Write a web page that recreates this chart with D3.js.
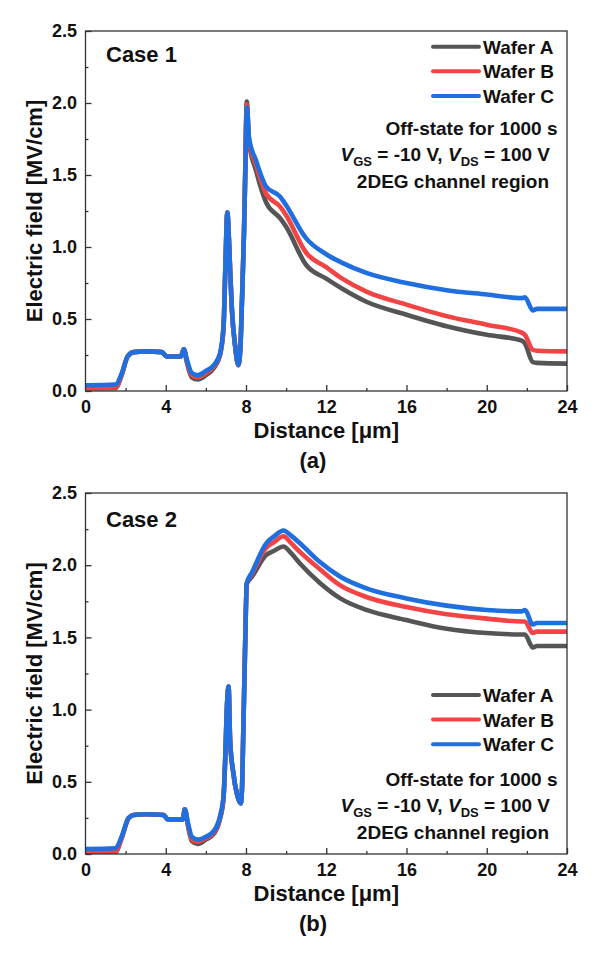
<!DOCTYPE html>
<html>
<head>
<meta charset="utf-8">
<script src="https://cdn.jsdelivr.net/npm/d3@7"></script>
<style>
  body { margin: 0; background: #fff; }
  text { font-family: "Liberation Sans", Arial, sans-serif; font-weight: bold; fill: #111; }
</style>
</head>
<body>
<svg id="chart" width="598" height="959"></svg>
<script>
// ---- data ----
var wafers = ["Wafer A", "Wafer B", "Wafer C"];
var colors = ["#555555", "#f24444", "#1f6fdf"];

var xTicks = [0, 4, 8, 12, 16, 20, 24];
var xMinor = [2, 6, 10, 14, 18, 22];
var yTicks = [0, 0.5, 1.0, 1.5, 2.0, 2.5];
var yMinor = [0.25, 0.75, 1.25, 1.75, 2.25];

// Case 1
var x1 = [0, 1.5, 1.8, 2.1, 2.4, 3.0, 3.8, 4.05, 4.75, 4.9, 5.05, 5.3, 5.6, 6.0, 6.4, 6.7, 6.88, 6.97, 7.07, 7.15, 7.22, 7.3, 7.46, 7.62, 7.72, 7.8, 7.9, 7.96, 8.04, 8.15, 8.5, 9.0, 9.7, 10, 11, 12, 12.8, 14, 16, 18, 20, 21.75, 21.9, 22.3, 22.5, 24];
var c1A = [0.02, 0.02, 0.11, 0.24, 0.27, 0.275, 0.27, 0.24, 0.24, 0.29, 0.2, 0.095, 0.08, 0.11, 0.16, 0.245, 0.44, 0.85, 1.24, 1.05, 0.8, 0.56, 0.31, 0.18, 0.3, 0.63, 1.1, 1.5, 2.01, 1.73, 1.53, 1.31, 1.2, 1.14, 0.875, 0.78, 0.71, 0.62, 0.53, 0.45, 0.39, 0.35, 0.33, 0.2, 0.195, 0.19];
var c1B = [0.02, 0.025, 0.11, 0.24, 0.27, 0.275, 0.27, 0.24, 0.24, 0.29, 0.21, 0.11, 0.095, 0.125, 0.17, 0.25, 0.44, 0.85, 1.24, 1.05, 0.8, 0.56, 0.31, 0.18, 0.3, 0.63, 1.1, 1.5, 1.99, 1.74, 1.57, 1.37, 1.28, 1.22, 0.96, 0.86, 0.78, 0.69, 0.6, 0.52, 0.46, 0.405, 0.39, 0.285, 0.28, 0.275];
var c1C = [0.04, 0.045, 0.12, 0.24, 0.27, 0.275, 0.27, 0.24, 0.24, 0.29, 0.22, 0.125, 0.11, 0.14, 0.18, 0.26, 0.45, 0.85, 1.24, 1.05, 0.8, 0.56, 0.31, 0.18, 0.3, 0.63, 1.1, 1.5, 1.97, 1.76, 1.6, 1.42, 1.35, 1.29, 1.06, 0.95, 0.89, 0.82, 0.75, 0.7, 0.67, 0.645, 0.65, 0.56, 0.57, 0.57];

// Case 2
var x2 = [0, 1.5, 1.8, 2.15, 2.4, 3.0, 3.9, 4.1, 4.85, 4.95, 5.1, 5.3, 5.6, 6.0, 6.4, 6.7, 6.88, 6.96, 7.06, 7.13, 7.21, 7.37, 7.54, 7.74, 7.8, 7.87, 7.95, 8.04, 8.3, 9.0, 9.4, 9.87, 10.2, 10.7, 11.7, 12.7, 14, 16, 18, 20, 21.75, 21.9, 22.3, 22.5, 24];
var c2A = [0.015, 0.015, 0.11, 0.25, 0.27, 0.275, 0.27, 0.24, 0.24, 0.31, 0.2, 0.09, 0.07, 0.1, 0.14, 0.24, 0.39, 0.64, 1.05, 1.16, 0.78, 0.56, 0.42, 0.35, 0.45, 0.88, 1.4, 1.87, 1.92, 2.07, 2.1, 2.13, 2.09, 2.01, 1.875, 1.77, 1.69, 1.62, 1.56, 1.53, 1.52, 1.52, 1.43, 1.44, 1.44];
var c2B = [0.015, 0.015, 0.11, 0.25, 0.27, 0.275, 0.27, 0.24, 0.24, 0.31, 0.21, 0.1, 0.085, 0.11, 0.15, 0.25, 0.39, 0.64, 1.05, 1.16, 0.78, 0.56, 0.42, 0.35, 0.45, 0.88, 1.4, 1.875, 1.94, 2.12, 2.16, 2.2, 2.16, 2.09, 1.97, 1.86, 1.78, 1.71, 1.66, 1.63, 1.61, 1.61, 1.53, 1.54, 1.54];
var c2C = [0.035, 0.04, 0.12, 0.25, 0.27, 0.275, 0.27, 0.24, 0.24, 0.31, 0.22, 0.12, 0.1, 0.12, 0.16, 0.26, 0.4, 0.65, 1.05, 1.16, 0.78, 0.56, 0.42, 0.35, 0.45, 0.88, 1.4, 1.875, 1.95, 2.15, 2.2, 2.24, 2.21, 2.15, 2.02, 1.92, 1.84, 1.77, 1.72, 1.69, 1.68, 1.69, 1.59, 1.6, 1.6];

var notes = ["Off-state for 1000 s", "VGS = -10 V, VDS = 100 V", "2DEG channel region"];

var svg = d3.select("#chart");

function drawPanel(opt) {
    var left = 85.5, right = 567;
    var x = d3.scaleLinear().domain([0, 24]).range([left, right]);
    var y = d3.scaleLinear().domain([0, 2.5]).range([opt.bottom, opt.top]);
    var g = svg.append("g");

    // ticks (inward)
    var xAxis = g.append("g").attr("transform", "translate(0," + opt.bottom + ")")
        .call(d3.axisBottom(x).tickValues(xTicks).tickSizeInner(-6).tickSizeOuter(0).tickPadding(9).tickFormat(d3.format("d")));
    g.append("g").attr("transform", "translate(0," + opt.bottom + ")")
        .call(d3.axisBottom(x).tickValues(xMinor).tickSizeInner(-3).tickSizeOuter(0).tickFormat(""));
    var yAxis = g.append("g").attr("transform", "translate(" + left + ",0)")
        .call(d3.axisLeft(y).tickValues(yTicks).tickSizeInner(-6).tickSizeOuter(0).tickPadding(8.5).tickFormat(d3.format(".1f")));
    g.append("g").attr("transform", "translate(" + left + ",0)")
        .call(d3.axisLeft(y).tickValues(yMinor).tickSizeInner(-3).tickSizeOuter(0).tickFormat(""));
    g.selectAll(".domain").remove();
    g.selectAll(".tick line").attr("stroke", "#333").attr("stroke-width", 1.3);
    g.selectAll(".tick text").attr("font-size", 18).attr("fill", "#111")
        .style("font-family", "'Liberation Sans', Arial, sans-serif").style("font-weight", "bold");

    // curves
    var clipId = "clip" + opt.id;
    svg.append("defs").append("clipPath").attr("id", clipId).append("rect")
        .attr("x", left).attr("y", opt.top).attr("width", right - left).attr("height", opt.bottom - opt.top);
    var line = d3.line().x(function (d) { return x(d[0]); }).y(function (d) { return y(d[1]); })
        .curve(d3.curveMonotoneX);
    opt.series.forEach(function (s, i) {
        var pts = opt.xs.map(function (v, j) { return [v, s[j]]; });
        g.append("path").datum(pts)
            .attr("clip-path", "url(#" + clipId + ")")
            .attr("d", line)
            .attr("fill", "none")
            .attr("stroke", colors[i])
            .attr("stroke-width", 4.6)
            .attr("stroke-linejoin", "round");
    });

    // frame
    g.append("rect").attr("x", left).attr("y", opt.top)
        .attr("width", right - left).attr("height", opt.bottom - opt.top)
        .attr("fill", "none").attr("stroke", "#333").attr("stroke-width", 1.3);

    // legend
    wafers.forEach(function (w, i) {
        var ly = opt.top + opt.legendTop + i * 24.6;
        g.append("line").attr("x1", 433).attr("x2", 479).attr("y1", ly).attr("y2", ly)
            .attr("stroke", colors[i]).attr("stroke-width", 4).attr("stroke-linecap", "round");
        g.append("text").attr("x", 483).attr("y", ly + 7).attr("font-size", 19).text(w);
    });

    // annotation
    var nb = opt.top + opt.noteTop;
    g.append("text").attr("x", 557.5).attr("y", nb).attr("text-anchor", "end").attr("font-size", 19).text(notes[0]);
    var t2 = g.append("text").attr("x", 550).attr("y", nb + 25.5).attr("text-anchor", "end").attr("font-size", 19);
    t2.append("tspan").attr("font-style", "italic").text("V");
    t2.append("tspan").attr("font-size", 13).attr("dy", 5).text("GS");
    t2.append("tspan").attr("dy", -5).text(" = -10 V, ");
    t2.append("tspan").attr("font-style", "italic").text("V");
    t2.append("tspan").attr("font-size", 13).attr("dy", 5).text("DS");
    t2.append("tspan").attr("dy", -5).text(" = 100 V");
    g.append("text").attr("x", 549).attr("y", nb + 53).attr("text-anchor", "end").attr("font-size", 19).text(notes[2]);

    // case label
    g.append("text").attr("x", 106).attr("y", opt.top + opt.caseTop).attr("font-size", 22).text(opt.caseLabel);

    // axis titles
    g.append("text").attr("transform", "translate(42," + ((opt.top + opt.bottom) / 2) + ") rotate(-90)")
        .attr("text-anchor", "middle").attr("font-size", 22).text("Electric field [MV/cm]");
    g.append("text").attr("x", (left + right) / 2).attr("y", opt.bottom + 47)
        .attr("text-anchor", "middle").attr("font-size", 22).text("Distance [\u03bcm]");
    g.append("text").attr("x", 313).attr("y", opt.bottom + 77)
        .attr("text-anchor", "middle").attr("font-size", 22).text(opt.panel);
}

drawPanel({ id: 1, top: 31, bottom: 391, xs: x1, series: [c1A, c1B, c1C],
    legendTop: 15.7, noteTop: 104, caseTop: 31, caseLabel: "Case 1", panel: "(a)" });
drawPanel({ id: 2, top: 493, bottom: 854, xs: x2, series: [c2A, c2B, c2C],
    legendTop: 202, noteTop: 293, caseTop: 34, caseLabel: "Case 2", panel: "(b)" });
</script>
</body>
</html>
